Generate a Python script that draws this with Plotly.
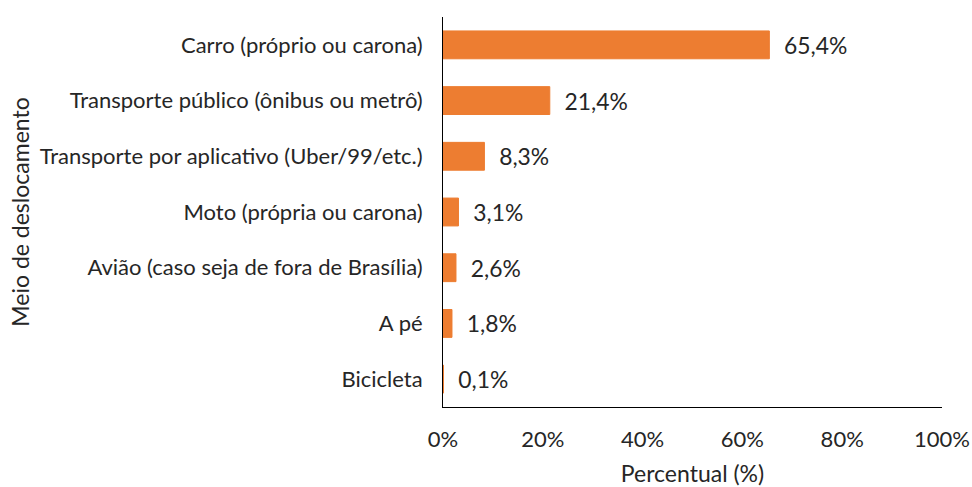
import plotly.graph_objects as go

categories = [
    "Carro (próprio ou carona)",
    "Transporte público (ônibus ou metrô)",
    "Transporte por aplicativo (Uber/99/etc.)",
    "Moto (própria ou carona)",
    "Avião (caso seja de fora de Brasília)",
    "A pé",
    "Bicicleta",
]
values = [65.4, 21.4, 8.3, 3.1, 2.6, 1.8, 0.1]
tick_vals = [0, 20, 40, 60, 80, 100]
tick_text = ["0%", "20%", "40%", "60%", "80%", "100%"]

labels = ["\u00a0\u00a0" + f"{v:.1f}%".replace(".", ",") for v in values]

FONT = "Lato"
TXT = "#262626"
BAR = "#ED7D31"

fig = go.Figure(
    go.Bar(
        y=categories,
        x=values,
        orientation="h",
        marker=dict(color=BAR, line=dict(width=1, color=BAR)),
        width=0.5,
        text=labels,
        textposition="outside",
        cliponaxis=False,
        textfont=dict(family=FONT, size=23, color=TXT),
    )
)

fig.update_layout(
    width=972,
    height=487,
    margin=dict(l=443, r=30, t=17, b=80),
    paper_bgcolor="white",
    plot_bgcolor="white",
    showlegend=False,
    font=dict(family=FONT, size=22, color=TXT),
    xaxis=dict(
        range=[0, 100],
        tickvals=tick_vals,
        ticktext=tick_text,
        tickfont=dict(family=FONT, size=22, color=TXT),
        showgrid=False,
        zeroline=False,
        showline=True,
        linecolor="#000000",
        linewidth=1,
        ticks="",
        ticklabelstandoff=13,
        ticklabeloverflow="allow",
        title=dict(text="Percentual (%)", standoff=14, font=dict(family=FONT, size=23, color=TXT)),
        fixedrange=True,
        automargin=False,
    ),
    yaxis=dict(
        categoryorder="array",
        categoryarray=categories[::-1],
        tickfont=dict(family=FONT, size=22, color=TXT),
        showgrid=False,
        zeroline=False,
        showline=True,
        linecolor="#000000",
        linewidth=1,
        ticks="",
        ticklabelstandoff=15,
        title=dict(text="Meio de deslocamento", standoff=3, font=dict(family=FONT, size=23, color=TXT)),
        fixedrange=True,
        automargin=False,
    ),
)

fig.write_html(
    "out.html",
    config={"displayModeBar": False, "staticPlot": True},
    post_script="document.body.style.margin='0';document.body.style.overflow='hidden';",
)
